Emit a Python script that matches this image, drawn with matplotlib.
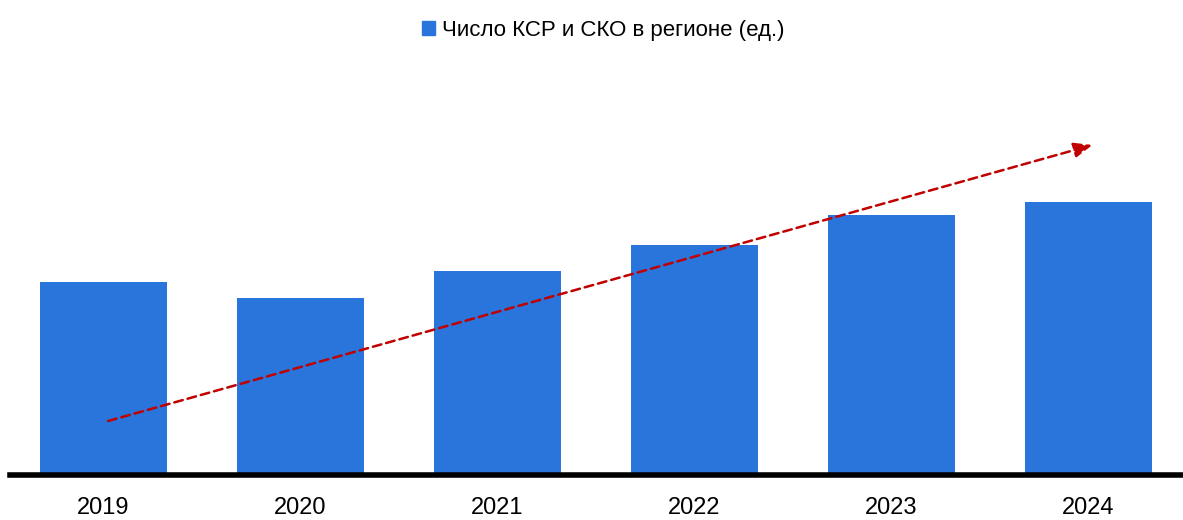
import matplotlib
matplotlib.use("Agg")
import matplotlib.pyplot as plt
from matplotlib.patches import Patch

# данные (в условных единицах)
years = ["2019", "2020", "2021", "2022", "2023", "2024"]
values = [193, 177, 204, 230, 260, 273]
label = "Число КСР и СКО в регионе (ед.)"

plt.rcParams["font.family"] = ["Liberation Sans", "DejaVu Sans"]

fig = plt.figure(figsize=(11.83, 5.2), dpi=100)
ax = fig.add_axes([10 / 1183, 1 - 475 / 520, 1 - 10 / 1183, (475 - 60) / 520])

x = list(range(len(years)))
ax.bar(x, values, width=0.645, color="#2A75DC", zorder=2)

ax.set_xlim(-0.475, 5.48)
ax.set_ylim(0, 415)

for s in ["top", "right", "left"]:
    ax.spines[s].set_visible(False)
ax.spines["bottom"].set_linewidth(4)
ax.spines["bottom"].set_zorder(3)
ax.set_yticks([])
ax.set_xticks(x)
ax.set_xticklabels(years, fontsize=17)
ax.tick_params(axis="x", length=0, pad=16)

# стрелка тренда
ax.annotate("", xy=(5.02, 330), xytext=(0.023, 54),
            arrowprops=dict(arrowstyle="-|>,head_length=1.1,head_width=0.45",
                            color="#C00000", lw=1.8, linestyle=(0, (3.5, 2)),
                            shrinkA=0, shrinkB=0),
            zorder=4)

fig.legend(handles=[Patch(color="#2A75DC", label=label)], loc="upper center",
           bbox_to_anchor=(0.51, 1.0), frameon=False, fontsize=16,
           handlelength=0.6, handleheight=0.6, handletextpad=0.3)

fig.savefig("out.png", dpi=100)
